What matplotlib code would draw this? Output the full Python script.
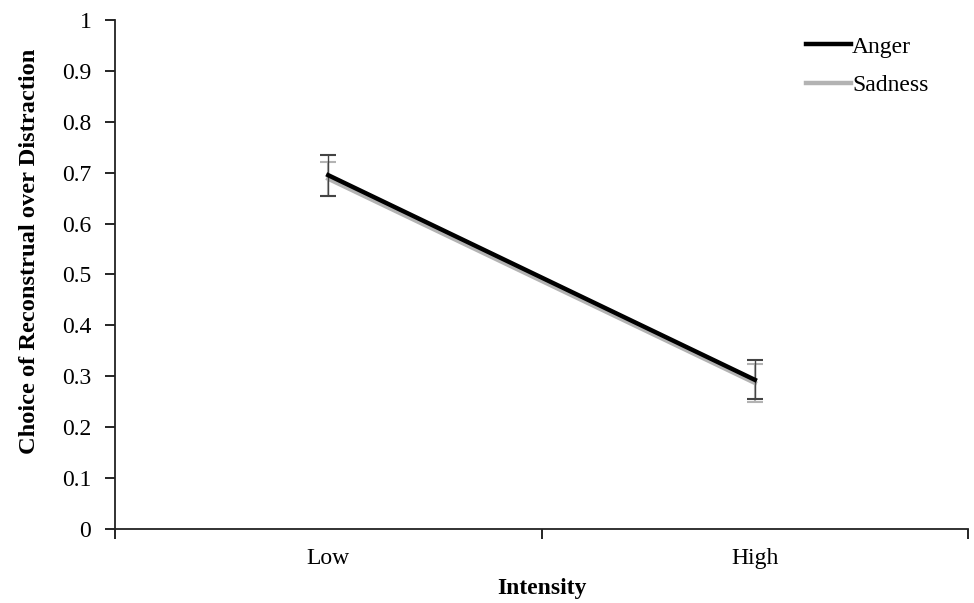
import matplotlib.pyplot as plt
from matplotlib.lines import Line2D
import numpy as np

plt.rcParams['font.family'] = ['Liberation Serif', 'DejaVu Serif']

intensity = ['Low', 'High']
anger = [0.695, 0.293]
anger_err = [0.040, 0.038]
sadness = [0.688, 0.287]
sadness_err = [0.033, 0.037]
y_ticks = [0, 0.1, 0.2, 0.3, 0.4, 0.5, 0.6, 0.7, 0.8, 0.9, 1]
y_labels = ['0', '0.1', '0.2', '0.3', '0.4', '0.5', '0.6', '0.7', '0.8', '0.9', '1']

x = np.arange(len(intensity))
anger_col = 'black'
sad_col = '#b3b3b3'

fig = plt.figure(figsize=(9.74, 6.03), dpi=100)
ax = fig.add_axes([0.118, 0.1227, 0.876, 0.8443])

# sadness underneath, anger on top
ax.errorbar(x, sadness, yerr=sadness_err, color=sad_col, lw=3.2,
            ecolor=sad_col, elinewidth=1.5, capsize=6, capthick=1.5, zorder=2)
ax.errorbar(x, anger, yerr=anger_err, color=anger_col, lw=3.2,
            ecolor='#444444', elinewidth=1.0, capsize=6, capthick=1.5, zorder=3)

ax.set_xlim(-0.5, 1.5)
ax.set_ylim(0, 1)
ax.set_yticks(y_ticks)
ax.set_yticklabels(y_labels)
ax.set_xticks([-0.5, 0.5, 1.5])
ax.set_xticklabels([])
ax.set_xticks(x, minor=True)
ax.set_xticklabels(intensity, minor=True)
ax.tick_params(axis='both', which='major', length=7, width=1.2, direction='out', labelsize=17)
ax.tick_params(axis='y', which='major', pad=10)
ax.tick_params(axis='x', which='minor', length=0, pad=14, labelsize=17)

for s in ['top', 'right']:
    ax.spines[s].set_visible(False)
for s in ['left', 'bottom']:
    ax.spines[s].set_linewidth(1.3)
    ax.spines[s].set_color('#222222')

ax.set_xlabel('Intensity', fontsize=17, fontweight='bold', labelpad=6)
ax.set_ylabel('Choice of Reconstrual over Distraction', fontsize=17.6, fontweight='bold',
              labelpad=16, y=0.546)

handles = [Line2D([], [], color=anger_col, lw=3.2), Line2D([], [], color=sad_col, lw=3.2)]
ax.legend(handles, ['Anger', 'Sadness'], loc='upper left', frameon=False, fontsize=17,
          handlelength=1.9, handletextpad=0.05, labelspacing=0.72,
          borderpad=0, borderaxespad=0,
          bbox_to_anchor=(806 / 974, 1 - 36 / 603), bbox_transform=fig.transFigure)

fig.savefig('out.png', dpi=100)
